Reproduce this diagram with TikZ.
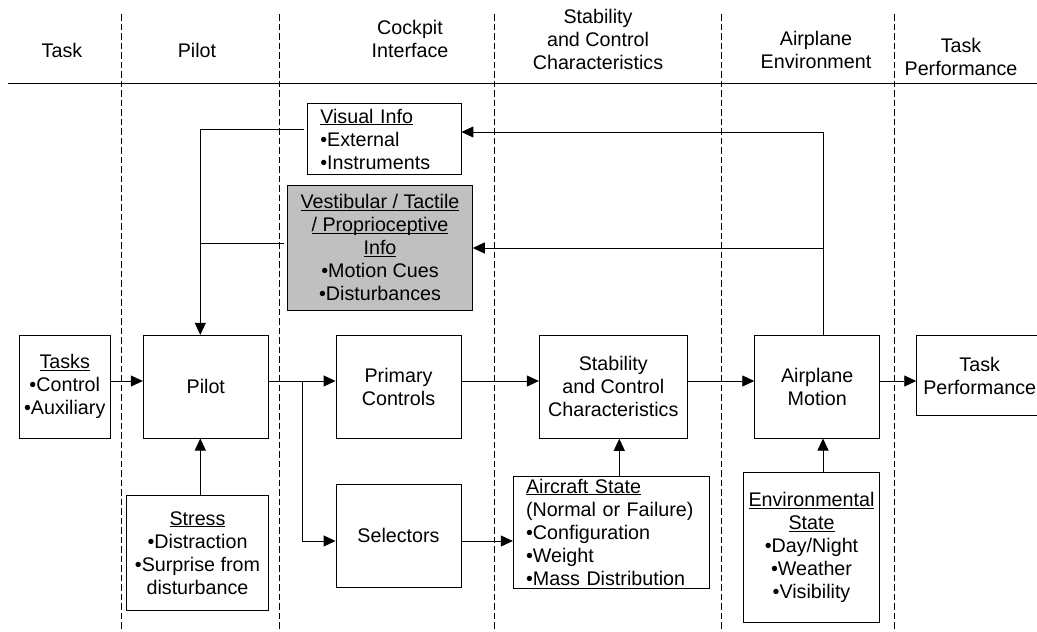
\documentclass[tikz,border=0pt]{standalone}
\usepackage{fontspec}
\setmainfont{Liberation Sans}
\usetikzlibrary{arrows.meta}
\definecolor{cuegray}{HTML}{C0C0C0}
% underline at a fixed depth below the baseline (full height kept)
\newcommand\ulx[1]{\underline{\raisebox{0pt}[\height][0pt]{#1}}}
\begin{document}
\begin{tikzpicture}[x=1pt,y=-1pt,
  every node/.style={font=\fontsize{19.7}{23}\selectfont, inner sep=0pt},
  box/.style={draw, line width=0.9pt, align=center},
  link/.style={line width=0.9pt},
  arr/.style={link, -{Triangle[length=12pt,width=11pt]}},
  lane/.style={line width=0.9pt, dash pattern=on 6.5pt off 3pt}]

\fill[white] (0,0) rectangle (1037,632);
\useasboundingbox (0,0) rectangle (1037,632);

% column headings and lane separators
\draw[link] (8,83) -- (1037,83);
\foreach \x in {121.3,279.3,494.7,721.3,894.7}
  \draw[lane] (\x,14) -- (\x,632);

\node (hTask)  at (62,50)    {Task};
\node (hPilot) at (197,50)   {Pilot};
\node[align=center] (hCock) at (410,39)   {Cockpit\\Interface};
\node[align=center] (hStab) at (598,39)   {Stability\\and Control\\Characteristics};
\node[align=center] (hEnv)  at (816,49.5) {Airplane\\Environment};
\node[align=center] (hPerf) at (961,56.5) {Task\\Performance};

% blocks
\node[box, minimum width=91.3pt, minimum height=102.7pt] (tasks) at (64.7,386.7)
  {\ulx{Tasks}\\•Control\\•Auxiliary};
\node[box, minimum width=125pt, minimum height=102.7pt] (pilot) at (205.8,386.7) {Pilot};
\node[box, minimum width=141.6pt, minimum height=114.6pt] (stress) at (197.5,553)
  {\ulx{Stress}\\•Distraction\\•Surprise from\\disturbance};
\node[box, minimum width=125pt, minimum height=102.7pt] (prim) at (398.5,386.7) {Primary\\Controls};
\node[box, minimum width=125pt, minimum height=103pt] (sel) at (398.5,535.8) {Selectors};
\node[box, align=left, text width=128pt, minimum width=153.3pt, minimum height=71.4pt] (visual) at (384.3,139)
  {\ulx{Visual Info}\\•External\\•Instruments};
\node[box, fill=cuegray, minimum width=184.6pt, minimum height=125.7pt] (vest) at (380,247.8)
  {\ulx{Vestibular / Tactile}\\\ulx{/ Proprioceptive}\\\ulx{Info}\\•Motion Cues\\•Disturbances};
\node[box, minimum width=148pt, minimum height=103pt] (stab) at (613.3,386.8)
  {Stability\\and Control\\Characteristics};
\node[box, align=left, text width=171pt, minimum width=196.4pt, minimum height=112pt] (acs) at (611.5,532)
  {\ulx{Aircraft State}\\(Normal or Failure)\\•Configuration\\•Weight\\•Mass Distribution};
\node[box, minimum width=125pt, minimum height=102.7pt] (motion) at (817.2,386.7) {Airplane\\Motion};
\node[box, minimum width=136.4pt, minimum height=149.3pt] (env) at (811.5,547.3)
  {\ulx{Environmental}\\\ulx{State}\\•Day/Night\\•Weather\\•Visibility};
\node[box, minimum width=126pt, minimum height=80.4pt] (perf) at (979.7,375.5) {Task\\Performance};

% routing rows and columns
\coordinate (rowA) at (0,381);
\coordinate (rowB) at (0,541);
\coordinate (fork) at (302.3,381);
\coordinate (colA) at (619.3,0);
\coordinate (colE) at (823,0);
\coordinate (colP) at (200.3,0);
\coordinate (vis)  at (0,132);
\coordinate (ves)  at (0,248);
\coordinate (vl)   at (0,129);
\coordinate (tl)   at (0,243.3);

% forward path
\draw[arr] (tasks.east |- rowA) -- (pilot.west |- rowA);
\draw[arr] (pilot.east |- rowA) -- (prim.west |- rowA);
\draw[arr] (fork) |- (sel.west |- rowB);
\draw[arr] (prim.east |- rowA) -- (stab.west |- rowA);
\draw[arr] (sel.east |- rowB) -- (acs.west |- rowB);
\draw[arr] (acs.north -| colA) -- (stab.south -| colA);
\draw[arr] (stab.east |- rowA) -- (motion.west |- rowA);
\draw[arr] (motion.east |- rowA) -- (perf.west |- rowA);
\draw[arr] (env.north -| colE) -- (motion.south -| colE);
\draw[arr] (stress.north -| colP) -- (pilot.south -| colP);

% cue feedback
\draw[arr] (motion.north -| colE) -- (colE |- vis) -- (visual.east |- vis);
\draw[arr] (colE |- ves) -- (vest.east |- ves);
\draw[arr, shorten <=3pt] (visual.west |- vl) -- (colP |- vl) -- (pilot.north -| colP);
\draw[link, shorten <=3.5pt] (vest.west |- tl) -- (colP |- tl);
\end{tikzpicture}
\end{document}
